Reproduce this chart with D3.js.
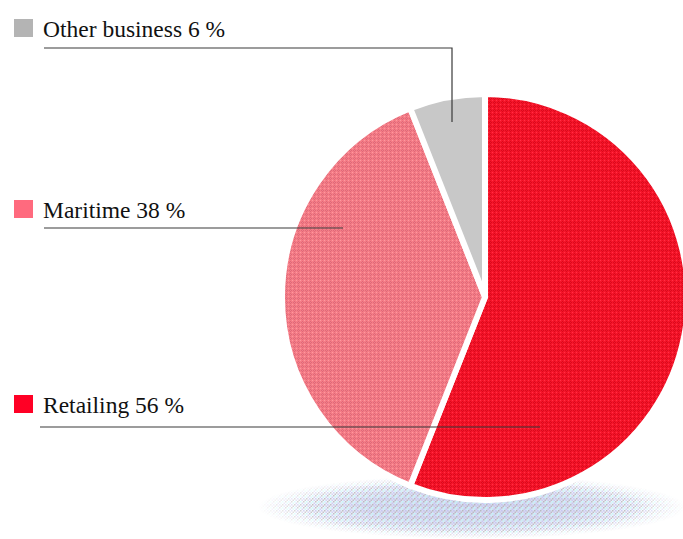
<!DOCTYPE html>
<html><head><meta charset="utf-8">
<script src="https://cdn.jsdelivr.net/npm/d3@7"></script>
<style>body{margin:0;background:#fff}svg{display:block}</style>
</head><body>
<script>
const categories = ["Retailing", "Maritime", "Other business"];
const values = [56, 38, 6];
const labels = ["Retailing 56 %", "Maritime 38 %", "Other business 6 %"];
const swatchColors = ["#ff0025", "#ff6a7e", "#b4b4b4"];

const W = 683, H = 539;
const svg = d3.select("body").append("svg").attr("width", W).attr("height", H);
const defs = svg.append("defs");

function dither(id, base, dot, dot2) {
  const p = defs.append("pattern").attr("id", id).attr("patternUnits", "userSpaceOnUse")
    .attr("width", 4).attr("height", 4);
  p.append("rect").attr("width", 4).attr("height", 4).attr("fill", base);
  [[1,0],[0,1],[2,1],[1,2]].forEach(([x,y]) =>
    p.append("rect").attr("x", x).attr("y", y).attr("width", 1).attr("height", 1).attr("fill", dot));
  p.append("rect").attr("x", 3).attr("y", 3).attr("width", 1).attr("height", 1).attr("fill", dot2);
}
dither("pRet", "#f61428", "#d80a1e", "#ff3048");
dither("pMar", "#f67c86", "#dc6a7a", "#fa9aa2");
const fills = ["url(#pRet)", "url(#pMar)", "#c8c8c8"];

// shadow
const ecx = 472, ecy = 507, erx = 214, ery = 32;
const sp = defs.append("pattern").attr("id", "pSh").attr("patternUnits", "userSpaceOnUse")
  .attr("width", 6).attr("height", 6);
[[0,0,"#b0b0b4"],[3,0,"#c0c0f4"],[0,3,"#b8fcfc"],[3,3,"#b0b0b4"],[1.5,1.5,"#c8c8f0"],[4.5,4.5,"#c0f8f8"],[4.5,1.5,"#b4b4bc"],[1.5,4.5,"#c4c4f0"]]
  .forEach(([x,y,c]) => sp.append("rect").attr("x", x).attr("y", y).attr("width", 1.5).attr("height", 1.5).attr("fill", c));
const rg = defs.append("radialGradient").attr("id", "gSh");
rg.append("stop").attr("offset", "0%").attr("stop-color", "#d0d2ec").attr("stop-opacity", 0.9);
rg.append("stop").attr("offset", "50%").attr("stop-color", "#d0d2ec").attr("stop-opacity", 0.7);
rg.append("stop").attr("offset", "85%").attr("stop-color", "#d0d2ec").attr("stop-opacity", 0);
svg.append("ellipse").attr("cx", ecx).attr("cy", ecy).attr("rx", erx).attr("ry", ery)
  .attr("fill", "url(#gSh)");
const rg2 = defs.append("radialGradient").attr("id", "gSh2");
rg2.append("stop").attr("offset", "0%").attr("stop-color", "#fff").attr("stop-opacity", 0.85);
rg2.append("stop").attr("offset", "75%").attr("stop-color", "#fff").attr("stop-opacity", 0.75);
rg2.append("stop").attr("offset", "100%").attr("stop-color", "#fff").attr("stop-opacity", 0);
defs.append("mask").attr("id", "mSh").append("ellipse")
  .attr("cx", ecx).attr("cy", ecy).attr("rx", erx).attr("ry", ery).attr("fill", "url(#gSh2)");
svg.append("ellipse").attr("cx", ecx).attr("cy", ecy).attr("rx", erx).attr("ry", ery)
  .attr("fill", "url(#pSh)").attr("mask", "url(#mSh)");

// pie
const cx = 485, cy = 297, R = 203;
const pie = d3.pie().sort(null).value(d => d)(values);
const arc = d3.arc().innerRadius(0).outerRadius(R);
svg.append("g").attr("transform", `translate(${cx},${cy})`)
  .selectAll("path").data(pie).join("path")
  .attr("d", arc).attr("fill", (d, i) => fills[i])
  .attr("stroke", "#fff").attr("stroke-width", 6).attr("stroke-linejoin", "miter");

// legend and leaders
const legendY = [395, 200, 19];
const g = svg.append("g");
categories.forEach((c, i) => {
  g.append("rect").attr("x", 14).attr("y", legendY[i]).attr("width", 19).attr("height", 18)
    .attr("fill", swatchColors[i]);
  g.append("text").attr("x", 43).attr("y", legendY[i] + 18)
    .attr("font-family", "Liberation Serif, Times New Roman, serif").attr("font-size", 23.5)
    .attr("fill", "#111").text(labels[i]);
});
const leaders = [
  [[40, 427], [540, 427]],
  [[44, 228], [343, 228]],
  [[44, 48], [452, 48], [452, 122]]
];
leaders.forEach(pts => {
  g.append("path").attr("d", d3.line()(pts)).attr("fill", "none")
    .attr("stroke", "#3a3a3a").attr("stroke-width", 1.2);
});
</script>
</body></html>
